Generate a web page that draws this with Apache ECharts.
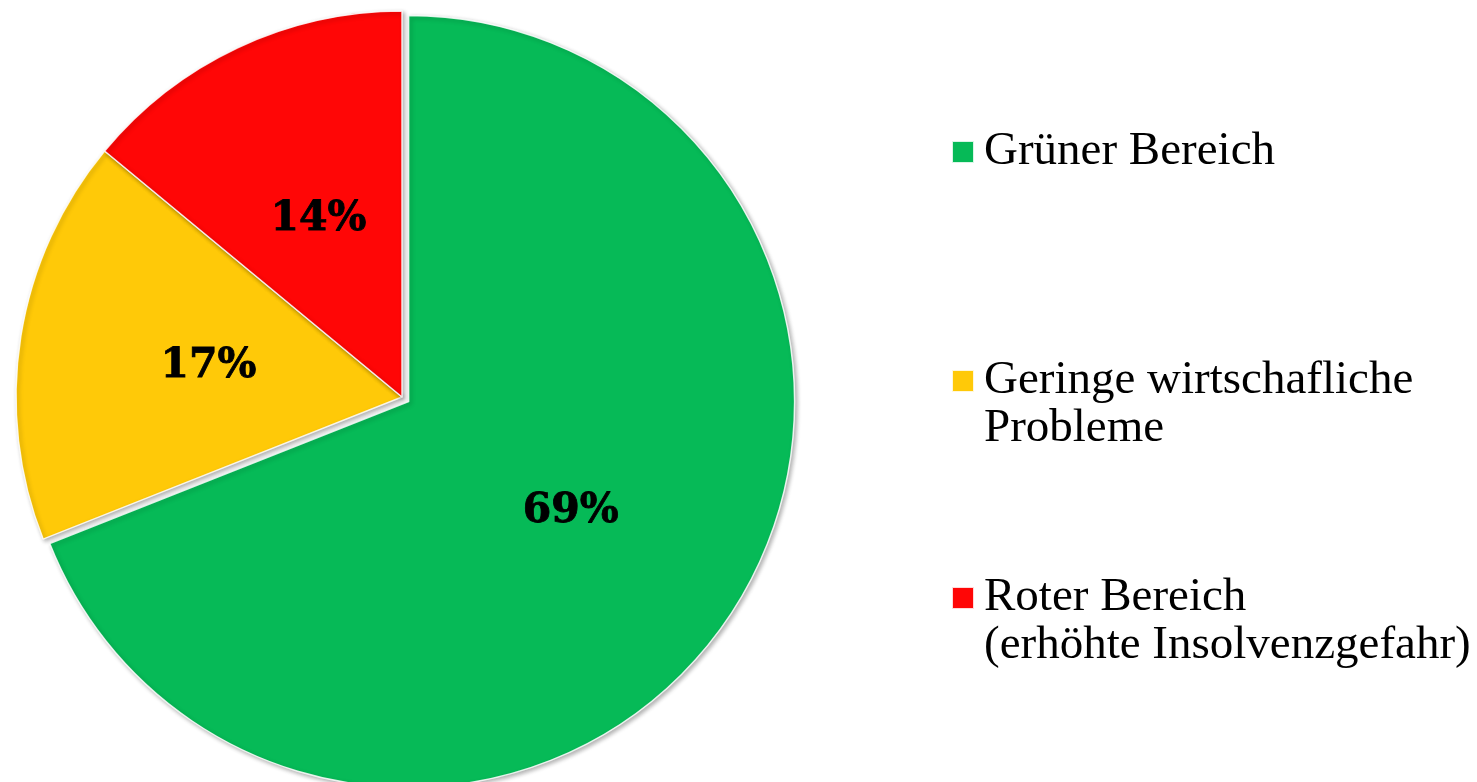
<!DOCTYPE html>
<html>
<head>
<meta charset="utf-8">
<script src="https://cdn.jsdelivr.net/npm/echarts@6/dist/echarts.min.js"></script>
<style>
html,body{margin:0;padding:0;background:#fff;}
#chart{width:1477px;height:782px;}
</style>
</head>
<body>
<div id="chart"></div>
<script>
const categories = ['Grüner Bereich', 'Geringe wirtschafliche Probleme', 'Roter Bereich (erhöhte Insolvenzgefahr)'];
const legendLabels = ['Grüner Bereich', '\nGeringe wirtschafliche\nProbleme', '\nRoter Bereich\n(erhöhte Insolvenzgefahr)'];
const values = [69, 17, 14];
const colors = ['#06BA57', '#FFC908', '#FF0606'];

const chart = echarts.init(document.getElementById('chart'), null, {renderer: 'canvas'});

const legendTops = [128, 309, 526];
const legends = categories.map((c, i) => ({
  data: [c],
  orient: 'vertical',
  left: 951,
  top: legendTops[i],
  padding: 0,
  itemWidth: 22,
  itemHeight: 22,
  icon: 'rect',
  selectedMode: false,
  formatter: () => legendLabels[i],
  textStyle: {
    fontFamily: 'Liberation Serif',
    fontSize: 47,
    lineHeight: 48,
    color: '#000',
    padding: [0, 0, 0, 5]
  }
}));

chart.setOption({
  backgroundColor: '#ffffff',
  animation: false,
  legend: legends,
  series: [{
    type: 'pie',
    center: [402, 397],
    radius: 386,
    startAngle: 90,
    clockwise: true,
    selectedMode: 'single',
    selectedOffset: 8,
    avoidLabelOverlap: false,
    label: {
      show: true,
      position: 'inside',
      formatter: '{d}%',
      fontFamily: 'DejaVu Serif',
      fontWeight: 'bold',
      fontSize: 41,
      color: '#000',
      textBorderColor: '#000',
      textBorderWidth: 0.8
    },
    labelLine: {show: false},
    emphasis: {disabled: true},
    itemStyle: {
      borderColor: 'rgba(255,255,255,0.85)',
      borderWidth: 1.5,
      shadowBlur: 4,
      shadowOffsetX: 2,
      shadowOffsetY: 2,
      shadowColor: 'rgba(0,0,0,0.3)'
    },
    data: categories.map((c, i) => ({
      name: c,
      value: values[i],
      selected: i === 0,
      itemStyle: {color: colors[i]}
    }))
  }]
});
</script>
</body>
</html>
